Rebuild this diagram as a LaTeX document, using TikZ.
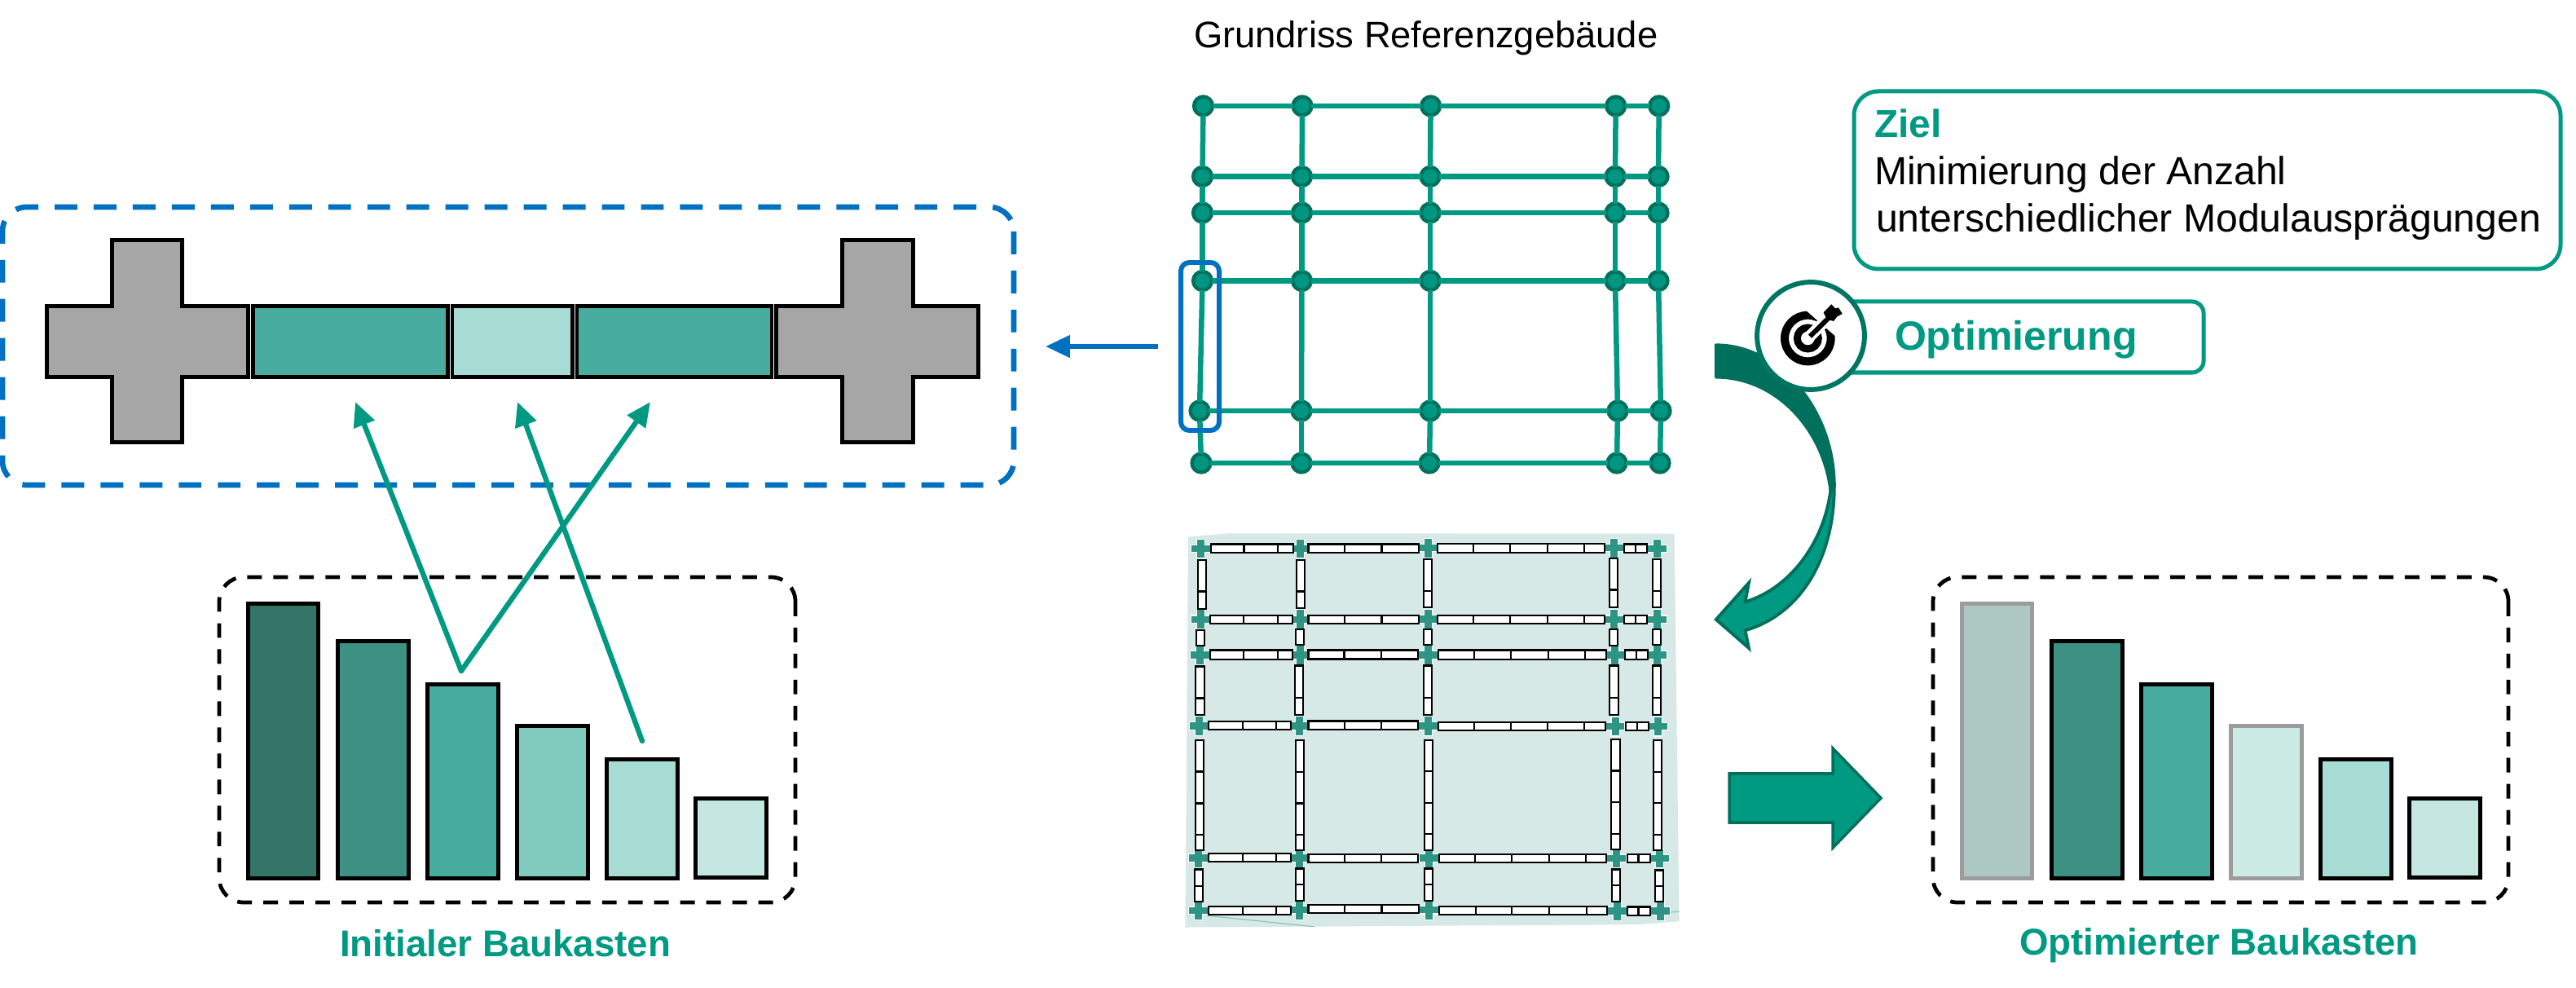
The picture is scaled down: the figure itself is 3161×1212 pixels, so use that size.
\documentclass[tikz,border=0pt]{standalone}
\usepackage{fontspec}
\setmainfont{Liberation Sans}
\usetikzlibrary{arrows.meta}
\definecolor{teal1}{HTML}{009982}
\definecolor{teald}{HTML}{00705C}
\definecolor{tealn}{HTML}{009681}
\definecolor{blue1}{HTML}{0070C0}
\definecolor{grayc}{HTML}{A6A6A6}
\definecolor{grayl}{HTML}{9C9C9C}
\definecolor{b1}{HTML}{337567}
\definecolor{b2}{HTML}{3C9183}
\definecolor{b3}{HTML}{48AD9E}
\definecolor{b4}{HTML}{80CBBD}
\definecolor{b5}{HTML}{A6DCD3}
\definecolor{b6}{HTML}{C4E8E1}
\definecolor{b7}{HTML}{ADC7C3}
\definecolor{b8}{HTML}{CCEBE5}
\definecolor{panelc}{HTML}{D6E9E6}
\definecolor{crossc}{HTML}{2E9584}
\tikzset{
  gnode/.style={circle,draw=teald,fill=tealn,line width=2.5pt,minimum size=13pt,inner sep=0pt,outer sep=0pt},
  gline/.style={draw=teal1,line width=3.7pt},
  lab/.style={inner sep=0pt,outer sep=0pt,anchor=base west},
  tealbold/.style={lab,text=teal1,font=\bfseries\fontsize{26}{30}\selectfont},
  blackdash/.style={draw=black,line width=2.7pt,rounded corners=17pt,dash pattern=on 10.2pt off 8pt},
  barblack/.style={draw=black,line width=2.85pt},
  bargray/.style={draw=grayl,line width=2.85pt},
  partseg/.style={draw=black,line width=2.6pt},
  crossshape/.style={draw=black,line width=2.7pt,fill=grayc},
  tealarrow/.style={draw=teal1,line width=3.6pt,line cap=round,-{Triangle[length=17pt,width=15pt]}},
  wallbox/.style={draw=black,fill=white,line width=1.3pt},
  wallline/.style={draw=black,line width=1.3pt},
  tealbox/.style={draw=teal1,fill=white,line width=2.85pt},
}
% modular plan helpers (coordinates inside the plan scope)
\newcommand{\hwallm}[5]{\draw[wallbox] (#1,#3) rectangle (#2,#4);
  \foreach \dd in {#5} {\draw[wallline] (\dd,#3) -- (\dd,#4);}}
\newcommand{\vwallm}[5]{\draw[wallbox] (#1,#3) rectangle (#2,#4);
  \foreach \dd in {#5} {\draw[wallline] (#1,\dd) -- (#2,\dd);}}
\newcommand{\crossm}[2]{\draw[white,line width=0.6pt,fill=crossc]
  (#1-11,#2-35) -- (#1+11,#2-35) -- (#1+11,#2-14) -- (#1+26,#2-14) -- (#1+26,#2+14) -- (#1+11,#2+14)
  -- (#1+11,#2+35) -- (#1-11,#2+35) -- (#1-11,#2+14) -- (#1-26,#2+14) -- (#1-26,#2-14) -- (#1-11,#2-14) -- cycle;}
\begin{document}
\begin{tikzpicture}[x=0.02cm,y=-0.02cm]
\useasboundingbox (0,0) rectangle (3161,1212);
\fill[white] (0,0) rectangle (3161,1212);

% ---------- title
\node[lab,font=\fontsize{25.8}{30}\selectfont] (title) at (1465,59) {Grundriss Referenzgebäude};

% ---------- grid
\node[gnode] (g11) at (1476.5,130) {};
\node[gnode] (g12) at (1598,130) {};
\node[gnode] (g13) at (1755.6,130) {};
\node[gnode] (g14) at (1982.7,130) {};
\node[gnode] (g15) at (2035.7,130) {};
\node[gnode] (g21) at (1475.5,216.5) {};
\node[gnode] (g22) at (1597.5,216.5) {};
\node[gnode] (g23) at (1755,216.5) {};
\node[gnode] (g24) at (1982,216.5) {};
\node[gnode] (g25) at (2035,216.5) {};
\node[gnode] (g31) at (1475.5,261) {};
\node[gnode] (g32) at (1597.5,261) {};
\node[gnode] (g33) at (1755,261) {};
\node[gnode] (g34) at (1982,261) {};
\node[gnode] (g35) at (2035,261) {};
\node[gnode] (g41) at (1475.5,344.5) {};
\node[gnode] (g42) at (1597.5,344.5) {};
\node[gnode] (g43) at (1755,344.5) {};
\node[gnode] (g44) at (1982,344.5) {};
\node[gnode] (g45) at (2035,344.5) {};
\node[gnode] (g51) at (1472,504) {};
\node[gnode] (g52) at (1597,504) {};
\node[gnode] (g53) at (1755,504) {};
\node[gnode] (g54) at (1985,504) {};
\node[gnode] (g55) at (2038,504) {};
\node[gnode] (g61) at (1474,568) {};
\node[gnode] (g62) at (1597,568) {};
\node[gnode] (g63) at (1754,568) {};
\node[gnode] (g64) at (1984,568) {};
\node[gnode] (g65) at (2037,568) {};
\foreach \r in {1,...,6} \foreach \c/\d in {1/2,2/3,3/4,4/5} \draw[gline] (g\r\c) -- (g\r\d);
\foreach \c in {1,...,5} \foreach \r/\s in {1/2,2/3,3/4,4/5,5/6} \draw[gline] (g\r\c) -- (g\s\c);

% blue highlight and arrow to the detail
\draw[draw=blue1,line width=3.4pt,rounded corners=6pt] (1449,322) rectangle (1496,528);
\coordinate (blueS) at (1421,425);
\coordinate (blueE) at (1283,425);
\draw[draw=blue1,line width=3.5pt,-{Triangle[length=17pt,width=15pt]}] (blueS) -- (blueE);

% ---------- detail box (top left)
\draw[draw=blue1,line width=3.8pt,rounded corners=17pt,dash pattern=on 15.9pt off 11.4pt] (1244,254) -- (1244,595) -- (3,595) -- (3,254) -- cycle;
\draw[crossshape] (137.5,294.5) -- (223.5,294.5) -- (223.5,375.5) -- (304.5,375.5) -- (304.5,462.5) -- (223.5,462.5) -- (223.5,542.5) -- (137.5,542.5) -- (137.5,462.5) -- (57.5,462.5) -- (57.5,375.5) -- (137.5,375.5) -- cycle;
\draw[crossshape] (1033.5,294.5) -- (1120.5,294.5) -- (1120.5,375.5) -- (1200.5,375.5) -- (1200.5,462.5) -- (1120.5,462.5) -- (1120.5,542.5) -- (1033.5,542.5) -- (1033.5,462.5) -- (952.5,462.5) -- (952.5,375.5) -- (1033.5,375.5) -- cycle;
\draw[partseg,fill=b3] (310.5,375.5) rectangle (549.5,462.5);
\draw[partseg,fill=b5] (555,375.5) rectangle (702.5,462.5);
\draw[partseg,fill=b3] (708,375.5) rectangle (947,462.5);

% ---------- initial kit
\draw[blackdash] (976,708) -- (976,1107) -- (269,1107) -- (269,708) -- cycle;
\draw[barblack,fill=b1] (304,740.5) rectangle (390.5,1077.5);
\draw[barblack,fill=b2] (414.5,786.5) rectangle (501.5,1077.5);
\draw[barblack,fill=b3] (524.5,839.5) rectangle (611.5,1077.5);
\draw[barblack,fill=b4] (634.5,890.5) rectangle (721.5,1077.5);
\draw[barblack,fill=b5] (744.5,931.5) rectangle (831.5,1077.5);
\draw[barblack,fill=b6] (853.5,979.5) rectangle (940.5,1076.5);
\coordinate (startA) at (566,823);
\coordinate (startB) at (788,909);
\coordinate (tipA) at (436,493);
\coordinate (tipB) at (635,493);
\coordinate (tipC) at (798,493);
\draw[tealarrow] (startA) -- (tipA);
\draw[tealarrow] (startA) -- (tipC);
\draw[tealarrow] (startB) -- (tipB);
\node[tealbold] (lblInit) at (417,1173) {Initialer Baukasten};

% ---------- optimized kit
\draw[blackdash] (3078,708) -- (3078,1107) -- (2372,1107) -- (2372,708) -- cycle;
\draw[bargray,fill=b7] (2407.5,740.5) rectangle (2493.5,1077.5);
\draw[barblack,fill=b2] (2517.5,786.5) rectangle (2604.5,1077.5);
\draw[barblack,fill=b3] (2627.5,839.5) rectangle (2714.5,1077.5);
\draw[bargray,fill=b8] (2737.5,890.5) rectangle (2824.5,1077.5);
\draw[barblack,fill=b5] (2847.5,931.5) rectangle (2934.5,1077.5);
\draw[barblack,fill=b6] (2956.5,979.5) rectangle (3043.5,1076.5);
\node[tealbold] (lblOpt) at (2478,1171) {Optimierter Baukasten};

% ---------- straight block arrow
\draw[draw=teald,fill=teal1,line width=2pt] (2122,949) -- (2249,949) -- (2249,918) -- (2308,979) -- (2249,1040) -- (2249,1009) -- (2122,1009) -- cycle;

% ---------- Ziel box
\draw[tealbox,rounded corners=17pt] (2275,112) rectangle (3142,330);
\node[lab,text=teal1,font=\bfseries\fontsize{27.2}{30}\selectfont] (ziel) at (2300,169) {Ziel};
\node[lab,font=\fontsize{27.4}{30}\selectfont] (ziel1) at (2300,227) {Minimierung der Anzahl};
\node[lab,font=\fontsize{27.4}{30}\selectfont] (ziel2) at (2302,285) {unterschiedlicher Modulausprägungen};

% ---------- Optimierung box
\draw[tealbox,rounded corners=8pt] (2200,370) rectangle (2704,457);
\node[lab,text=teal1,font=\bfseries\fontsize{28.5}{30}\selectfont] (opt) at (2325,430) {Optimierung};

% ---------- curved arrow
\begin{scope}[shift={(2050,330)},x=0.008929cm,y=-0.006667cm]
\draw[draw=teald,fill=teal1,line width=2.2pt,line join=miter]
  (450,800) .. controls (450,1060) and (360,1270) .. (205,1330)
  -- (215,1395) -- (125,1290) -- (215,1155) -- (205,1225)
  .. controls (320,1180) and (420,1020) .. (440,815) -- cycle;
\draw[draw=teald,fill=teald,line width=2.2pt,line join=round]
  (125,280) .. controls (300,280) and (450,520) .. (450,800)
  -- (440,815) .. controls (420,590) and (290,398) .. (125,398) -- cycle;
\end{scope}

% ---------- target icon
\node[circle,draw=teald!85!teal1,fill=white,line width=3.4pt,minimum size=75pt,inner sep=0pt] (icon) at (2222,412) {};
\begin{scope}[shift={(2150,350)},x=0.006667cm,y=-0.006667cm]
\draw[black,line width=5.7pt] (205,195) circle[radius=85];
\draw[black,line width=5.1pt] (205,195) circle[radius=39];
\draw[white,line width=8pt] (205,195) -- (300,100);
\draw[white,line width=9pt] (243,100) -- (300,150) -- (300,100) -- cycle;
\draw[black,line width=3.4pt] (213,188) -- (282,120);
\fill[black] (263,100) -- (292,70) -- (306,85) -- (318,82) -- (332,105) -- (313,115) -- (300,132) -- (275,125) -- cycle;
\end{scope}

% ---------- modular plan
\begin{scope}[shift={(1420,630)},x=0.009183cm,y=-0.006761cm]
\fill[panelc] (83,85) -- (190,72) -- (1382,73) -- (1395,1480) -- (1290,1492) -- (75,1502) -- cycle;
\draw[crossc!50!panelc,line width=0.6pt] (135,1460) -- (420,1500);
\draw[crossc!50!panelc,line width=0.6pt] (1345,1450) -- (1395,1445);
% crosses
\foreach \x/\y in {117/127,382/127,724/125,1220/125,1336/127,
  116/384,382/384,724/383,1220/384,1336/384,
  114/513,382/513,724/513,1222/513,1336/513,
  112/771,380/771,724/771,1224/773,1338/773,
  110/1250,380/1250,726/1250,1228/1252,1342/1252,
  110/1441,380/1439,726/1439,1230/1443,1344/1443} {\crossm{\x}{\y}}
% horizontal walls
\hwallm{144}{364}{111}{143}{232,322}
\hwallm{404}{699}{111}{143}{501,600}
\hwallm{749}{1196}{109}{143}{845,943,1043,1141}
\hwallm{1248}{1309}{111}{143}{1278}
\hwallm{141}{361}{369}{399}{231,322}
\hwallm{404}{699}{369}{399}{501,600}
\hwallm{749}{1196}{369}{399}{845,943,1043,1141}
\hwallm{1248}{1309}{369}{399}{1278}
\hwallm{141}{361}{496}{530}{231,322}
\hwallm{404}{697}{496}{528}{500,599}
\hwallm{751}{1200}{496}{530}{847,945,1045,1143}
\hwallm{1250}{1311}{496}{530}{1280}
\hwallm{137}{357}{754}{784}{228,318}
\hwallm{404}{697}{753}{784}{501,599}
\hwallm{751}{1198}{757}{788}{847,945,1043,1141}
\hwallm{1252}{1313}{757}{788}{1283}
\hwallm{137}{357}{1234}{1264}{228,318}
\hwallm{404}{697}{1236}{1266}{501,599}
\hwallm{753}{1200}{1236}{1266}{849,947,1047,1145}
\hwallm{1256}{1317}{1236}{1266}{1286}
\hwallm{137}{357}{1426}{1456}{228,318}
\hwallm{404}{699}{1420}{1450}{501,600}
\hwallm{753}{1202}{1426}{1456}{851,947,1047,1147}
\hwallm{1256}{1317}{1428}{1458}{1286}
% vertical walls
\vwallm{109}{131}{168}{346}{283}
\vwallm{372}{394}{168}{343}{283}
\vwallm{712}{734}{165}{340}{281}
\vwallm{1208}{1230}{162}{340}{277}
\vwallm{1324}{1346}{165}{340}{281}
\draw[wallbox] (104,423) rectangle (126,479);
\draw[wallbox] (370,420) rectangle (392,476);
\draw[wallbox] (712,420) rectangle (734,476);
\draw[wallbox] (1208,420) rectangle (1230,479);
\draw[wallbox] (1324,420) rectangle (1346,476);
\vwallm{102}{126}{555}{731}{670}
\vwallm{368}{390}{552}{731}{668}
\vwallm{712}{734}{552}{731}{668}
\vwallm{1208}{1232}{552}{731}{668}
\vwallm{1324}{1346}{552}{731}{668}
\vwallm{102}{124}{823}{1222}{937,1052,1166}
\vwallm{370}{392}{823}{1222}{938,1052,1166}
\vwallm{714}{736}{823}{1222}{936,1050,1163}
\vwallm{1213}{1237}{820}{1219}{934,1047,1162}
\vwallm{1326}{1348}{823}{1222}{938,1050,1166}
\vwallm{100}{122}{1292}{1408}{1352}
\vwallm{370}{392}{1289}{1405}{1347}
\vwallm{714}{736}{1289}{1405}{1347}
\vwallm{1215}{1237}{1292}{1408}{1349}
\vwallm{1331}{1353}{1295}{1408}{1352}
\end{scope}
\end{tikzpicture}
\end{document}
